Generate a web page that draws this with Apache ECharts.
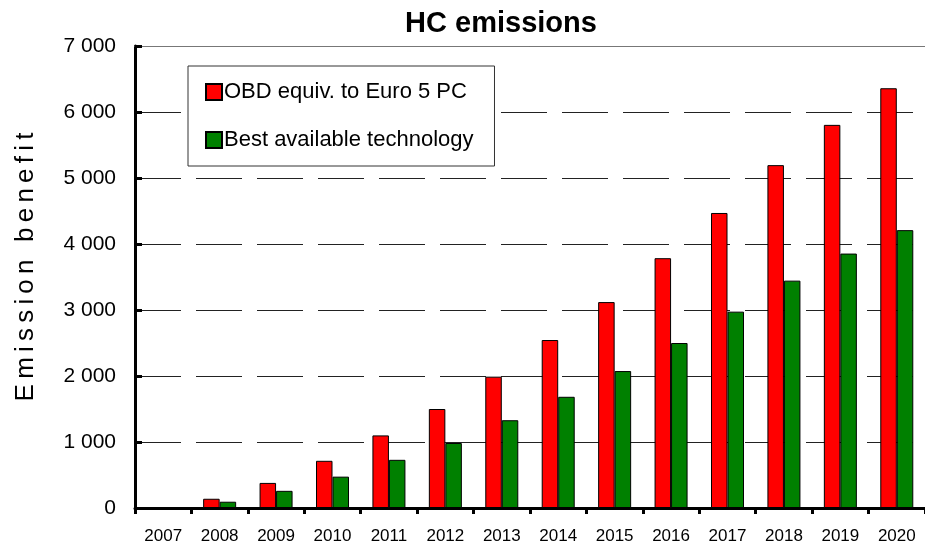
<!DOCTYPE html>
<html>
<head>
<meta charset="utf-8">
<script src="https://cdn.jsdelivr.net/npm/echarts@6/dist/echarts.min.js"></script>
<style>
  html, body { margin: 0; padding: 0; background: #fff; }
  #chart { width: 925px; height: 547px; }
</style>
</head>
<body>
<div id="chart"></div>
<script>
// HC emission benefit per year for two OBD scenarios
const years = ['2007', '2008', '2009', '2010', '2011', '2012', '2013', '2014', '2015', '2016', '2017', '2018', '2019', '2020'];
const obdEuro5 = [0, 140, 380, 715, 1100, 1500, 1990, 2545, 3120, 3785, 4470, 5195, 5805, 6360];
const bestTech = [0, 95, 260, 475, 730, 985, 1330, 1685, 2075, 2500, 2975, 3445, 3855, 4210];
const yTicks = [0, 1000, 2000, 3000, 4000, 5000, 6000, 7000];

const FONT = '"Liberation Sans", Arial, sans-serif';
const spaced = s => s.split('').join('\u2009');

const chart = echarts.init(document.getElementById('chart'), null, { renderer: 'canvas' });

chart.setOption({
  animation: false,
  backgroundColor: '#ffffff',
  textStyle: { fontFamily: FONT, color: '#000' },
  title: {
    text: 'HC emissions',
    left: 496,
    top: 4,
    textAlign: 'center',
    textStyle: { fontFamily: FONT, fontSize: 29, fontWeight: 'bold', color: '#000' }
  },
  legend: {
    orient: 'vertical',
    left: 188,
    top: 66,
    padding: [15, 21, 15, 17],
    itemGap: 26,
    itemWidth: 16,
    itemHeight: 16,
    backgroundColor: '#ffffff',
    borderColor: '#333',
    borderWidth: 1,
    textStyle: { fontFamily: FONT, fontSize: 22, color: '#000', padding: [0, 0, 0, -3] },
    data: [
      { name: 'OBD equiv. to Euro 5 PC', icon: 'rect' },
      { name: 'Best available technology', icon: 'rect' }
    ]
  },
  grid: { left: 135, top: 46, width: 793, height: 462, containLabel: false },
  xAxis: [
    {
      type: 'category',
      data: years,
      position: 'bottom',
      axisLine: { lineStyle: { color: '#000', width: 3 } },
      axisTick: { show: true, inside: false, length: 6, alignWithLabel: false, lineStyle: { color: '#000', width: 3 } },
      axisLabel: { fontFamily: FONT, fontSize: 17, color: '#000', margin: 20 },
      splitLine: { show: false }
    },
    {
      type: 'category',
      data: years,
      position: 'top',
      axisLine: { lineStyle: { color: '#777', width: 1 } },
      axisTick: { show: false },
      axisLabel: { show: false },
      splitLine: { show: false }
    }
  ],
  yAxis: {
    type: 'value',
    min: yTicks[0],
    max: yTicks[yTicks.length - 1],
    interval: 1000,
    axisLine: { show: true, lineStyle: { color: '#000', width: 3 } },
    axisTick: { show: true, inside: true, length: 7, lineStyle: { color: '#000', width: 3 } },
    axisLabel: {
      fontFamily: FONT,
      fontSize: 21,
      color: '#000',
      margin: 19,
      formatter: v => v === 0 ? '0' : String(v).replace(/\B(?=(\d{3})+(?!\d))/g, ' ')
    },
    splitLine: {
      show: true,
      lineStyle: { color: '#222', width: 1, type: [46, 15] }
    }
  },
  graphic: [
    {
      type: 'text',
      x: 26,
      y: 267,
      rotation: Math.PI / 2,
      style: {
        text: spaced('Emission benefit'),
        fontFamily: FONT,
        fontSize: 26,
        fill: '#000',
        textAlign: 'center',
        textVerticalAlign: 'middle'
      }
    }
  ],
  series: [
    {
      name: 'OBD equiv. to Euro 5 PC',
      type: 'bar',
      data: obdEuro5,
      barWidth: 16.5,
      barGap: '0%',
      itemStyle: { color: '#ff0000', borderColor: '#000', borderWidth: 1 }
    },
    {
      name: 'Best available technology',
      type: 'bar',
      data: bestTech,
      barWidth: 16.5,
      barGap: '0%',
      itemStyle: { color: '#008000', borderColor: '#000', borderWidth: 1 }
    }
  ]
});
</script>
</body>
</html>
